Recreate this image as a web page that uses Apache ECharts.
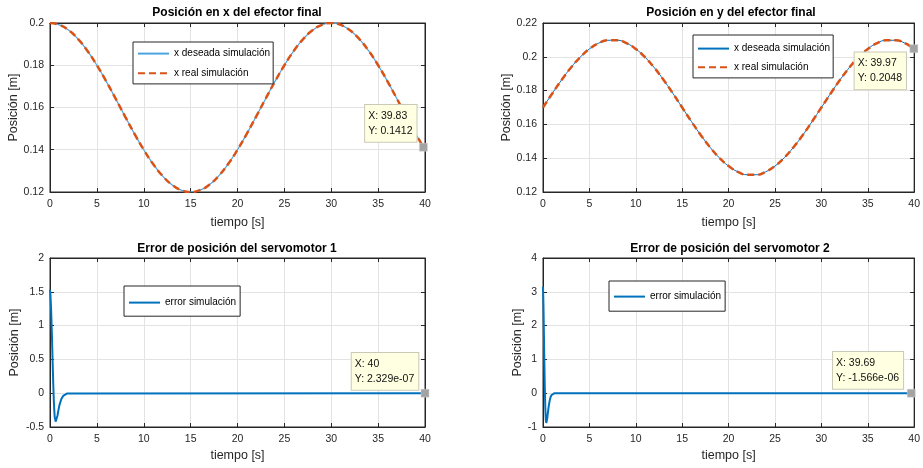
<!DOCTYPE html>
<html>
<head>
<meta charset="utf-8">
<script src="https://cdn.jsdelivr.net/npm/echarts@6/dist/echarts.min.js"></script>
<style>
html,body{margin:0;padding:0;background:#fff;}
#chart{width:923px;height:468px;}
</style>
</head>
<body>
<div id="chart"></div>
<script>
// ---- data ----
const tiempo = [0,1,2,3,4,5,6,7,8,9,10,11,12,13,14,15,16,17,18,19,20,21,22,23,24,25,26,27,28,29,30,31,32,33,34,35,36,37,38,39,40];
const xDeseada = [0.2,0.19913,0.19654,0.19236,0.18677,0.18,0.17236,0.16418,0.15582,0.14764,0.14,0.13323,0.12764,0.12346,0.12087,0.12,0.12087,0.12346,0.12764,0.13323,0.14,0.14764,0.15582,0.16418,0.17236,0.18,0.18677,0.19236,0.19654,0.19913,0.2,0.19913,0.19654,0.19236,0.18677,0.18,0.17236,0.16418,0.15582,0.14764,0.14];
const xReal    = [0.2,0.19913,0.19654,0.19236,0.18677,0.18,0.17236,0.16418,0.15582,0.14764,0.14,0.13323,0.12764,0.12346,0.12087,0.12,0.12087,0.12346,0.12764,0.13323,0.14,0.14764,0.15582,0.16418,0.17236,0.18,0.18677,0.19236,0.19654,0.19913,0.2,0.19913,0.19654,0.19236,0.18677,0.18,0.17236,0.16418,0.15582,0.14764,0.14];
const yDeseada = [0.17,0.17832,0.18627,0.19351,0.19972,0.20464,0.20804,0.20978,0.20978,0.20804,0.20464,0.19972,0.19351,0.18627,0.17832,0.17,0.16168,0.15373,0.14649,0.14028,0.13536,0.13196,0.13022,0.13022,0.13196,0.13536,0.14028,0.14649,0.15373,0.16168,0.17,0.17832,0.18627,0.19351,0.19972,0.20464,0.20804,0.20978,0.20978,0.20804,0.20464];
const yReal    = [0.17,0.17832,0.18627,0.19351,0.19972,0.20464,0.20804,0.20978,0.20978,0.20804,0.20464,0.19972,0.19351,0.18627,0.17832,0.17,0.16168,0.15373,0.14649,0.14028,0.13536,0.13196,0.13022,0.13022,0.13196,0.13536,0.14028,0.14649,0.15373,0.16168,0.17,0.17832,0.18627,0.19351,0.19972,0.20464,0.20804,0.20978,0.20978,0.20804,0.20464];
const tErr1 = [0,0.05,0.1,0.15,0.2,0.25,0.3,0.35,0.4,0.45,0.5,0.6,0.7,0.8,0.9,1.0,1.2,1.4,1.6,1.8,2.0,40];
const err1  = [1.53,1.45,1.3,1.1,0.88,0.62,0.36,0.12,-0.08,-0.24,-0.35,-0.42,-0.40,-0.33,-0.25,-0.18,-0.09,-0.04,-0.015,-0.005,0,0];
const tErr2 = [0,0.05,0.1,0.15,0.2,0.25,0.3,0.35,0.4,0.45,0.5,0.6,0.7,0.8,0.9,1.0,1.1,1.2,1.4,40];
const err2  = [3.15,2.6,1.75,0.85,0.1,-0.45,-0.78,-0.88,-0.85,-0.76,-0.64,-0.42,-0.25,-0.13,-0.06,-0.03,-0.012,-0.005,0,0];
const titulos = ['Posición en x del efector final','Posición en y del efector final','Error de posición del servomotor 1','Error de posición del servomotor 2'];
const nombreDeseada = 'x deseada simulación';
const nombreReal = 'x real simulación';
const nombreError = 'error simulación';
const ejeX = 'tiempo [s]';
const ejeY = 'Posición [m]';
const yMin = [0.12,0.12,-0.5,-1];
const yMax = [0.2,0.22,2,4];
const yPaso = [0.02,0.02,0.5,1];
const tipX = [39.83,39.97,40,39.69];
const tipY = [0.1412,0.2048,2.329e-07,-1.566e-06];
const tipTexto = [['X: 39.83','Y: 0.1412'],['X: 39.97','Y: 0.2048'],['X: 40','Y: 2.329e-07'],['X: 39.69','Y: -1.566e-06']];

// ---- layout ----
const FONT = '"Liberation Sans", Arial, Helvetica, sans-serif';
const AX = '#262626';
const grids = [
  {left:50, top:23, width:375, height:169},
  {left:543, top:23, width:375, height:169},
  {left:50, top:258, width:375, height:169},
  {left:543, top:258, width:375, height:169}
];
const zip = (a,b)=>a.map((v,i)=>[v,b[i]]);

const xAxes = [], yAxes = [];
grids.forEach((g,i)=>{
  xAxes.push({
    gridIndex:i, type:'value', min:0, max:40, interval:5,
    name:ejeX, nameLocation:'middle', nameGap: i<2?24:22,
    nameTextStyle:{color:AX,fontFamily:FONT,fontSize:12.5},
    axisLine:{show:true,onZero:false,lineStyle:{color:AX,width:1}},
    axisTick:{show:true,inside:true,length:4,lineStyle:{color:AX}},
    axisLabel:{color:AX,fontFamily:FONT,fontSize:10.5,margin:7},
    splitLine:{show:true,lineStyle:{color:'#e3e3e3',width:1}}
  });
  xAxes.push({
    gridIndex:i, type:'value', min:0, max:40, interval:5, position:'top',
    axisLine:{show:true,onZero:false,lineStyle:{color:AX,width:1}},
    axisTick:{show:true,inside:true,length:4,lineStyle:{color:AX}},
    axisLabel:{show:false}, splitLine:{show:false}
  });
  yAxes.push({
    gridIndex:i, type:'value', min:yMin[i], max:yMax[i], interval:yPaso[i],
    name:ejeY, nameLocation:'middle', nameGap: i===3?18:29,
    nameTextStyle:{color:AX,fontFamily:FONT,fontSize:12.5},
    axisLine:{show:true,onZero:false,lineStyle:{color:AX,width:1}},
    axisTick:{show:true,inside:true,length:4,lineStyle:{color:AX}},
    axisLabel:{color:AX,fontFamily:FONT,fontSize:10.5,margin:6},
    splitLine:{show:true,lineStyle:{color:'#e3e3e3',width:1}}
  });
  yAxes.push({
    gridIndex:i, type:'value', min:yMin[i], max:yMax[i], interval:yPaso[i], position:'right',
    axisLine:{show:true,onZero:false,lineStyle:{color:AX,width:1}},
    axisTick:{show:true,inside:true,length:4,lineStyle:{color:AX}},
    axisLabel:{show:false}, splitLine:{show:false}
  });
});

function tip(i){
  const offs = [[-54,-38],[-55,8],[-69,-36],[-74,-37]];
  return {
    symbol:'rect', symbolSize:8, silent:true, animation:false,
    data:[{coord:[tipX[i],tipY[i]]}],
    itemStyle:{color:'#a3a3a3',borderColor:'#d0d0d0',borderWidth:0.5},
    label:{show:true, position:offs[i], formatter:tipTexto[i].join('\n'),
      color:'#111', fontFamily:FONT, fontSize:10.5, lineHeight:15.4,
      backgroundColor:'#ffffe1', borderColor:'#c9c9b8', borderWidth:1,
      padding:[3,4,3,3], align:'left', verticalAlign:'top'}
  };
}

const series = [
  {name:nombreDeseada, type:'line', xAxisIndex:0, yAxisIndex:0, data:zip(tiempo,xDeseada), smooth:true, symbol:'none', lineStyle:{color:'#4da3de',width:1.2}, itemStyle:{color:'#4da3de'}, z:2},
  {name:nombreReal, type:'line', xAxisIndex:0, yAxisIndex:0, data:zip(tiempo,xReal), smooth:true, symbol:'none', lineStyle:{color:'#D95319',width:2.5,type:[7,4]}, itemStyle:{color:'#D95319'}, z:3, markPoint:tip(0)},
  {name:nombreDeseada+' ', type:'line', xAxisIndex:2, yAxisIndex:2, data:zip(tiempo,yDeseada), smooth:true, symbol:'none', lineStyle:{color:'#0072BD',width:1}, itemStyle:{color:'#0072BD'}, z:2},
  {name:nombreReal+' ', type:'line', xAxisIndex:2, yAxisIndex:2, data:zip(tiempo,yReal), smooth:true, symbol:'none', lineStyle:{color:'#D95319',width:2.5,type:[7,4]}, itemStyle:{color:'#D95319'}, z:3, markPoint:tip(1)},
  {name:nombreError, type:'line', xAxisIndex:4, yAxisIndex:4, data:zip(tErr1,err1), smooth:false, symbol:'none', lineStyle:{color:'#0072BD',width:2}, itemStyle:{color:'#0072BD'}, z:3, markPoint:tip(2)},
  {name:nombreError+' ', type:'line', xAxisIndex:6, yAxisIndex:6, data:zip(tErr2,err2), smooth:false, symbol:'none', lineStyle:{color:'#0072BD',width:2}, itemStyle:{color:'#0072BD'}, z:3, markPoint:tip(3)}
];

const legStyle = {orient:'vertical', selectedMode:false, backgroundColor:'#fff', borderColor:AX, borderWidth:1,
  itemWidth:31, itemHeight:14, itemStyle:{opacity:0, borderWidth:0},
  textStyle:{color:'#000',fontFamily:FONT,fontSize:10}};
const legends = [
  Object.assign({}, legStyle, {left:133, top:42, padding:[6,3,5,4], itemGap:8.5, data:[nombreDeseada,nombreReal], formatter:n=>n.trim()}),
  Object.assign({}, legStyle, {left:693, top:35, padding:[8,3,5,4], itemGap:7.5, data:[nombreDeseada+' ',nombreReal+' '], formatter:n=>n.trim()}),
  Object.assign({}, legStyle, {left:124, top:286, padding:[11,4,8,4], itemGap:8, data:[nombreError], formatter:n=>n.trim()}),
  Object.assign({}, legStyle, {left:609, top:281, padding:[10,4,9,4], itemGap:8, data:[nombreError+' '], formatter:n=>n.trim()})
];

const titleCenters = [[237,7],[731,7],[237,243],[730,243]];
const titles = titulos.map((t,i)=>({text:t, left:titleCenters[i][0], top:titleCenters[i][1], textAlign:'center', padding:0,
  textStyle:{color:'#000',fontFamily:FONT,fontSize:12,fontWeight:'bold'}}));

const chart = echarts.init(document.getElementById('chart'), null, {renderer:'canvas'});
chart.setOption({
  animation:false,
  backgroundColor:'#fff',
  title:titles,
  legend:legends,
  grid:grids.map(g=>Object.assign({show:true,borderColor:AX,borderWidth:1,backgroundColor:'#fff',containLabel:false},g)),
  xAxis:xAxes,
  yAxis:yAxes,
  series:series
});
</script>
</body>
</html>
